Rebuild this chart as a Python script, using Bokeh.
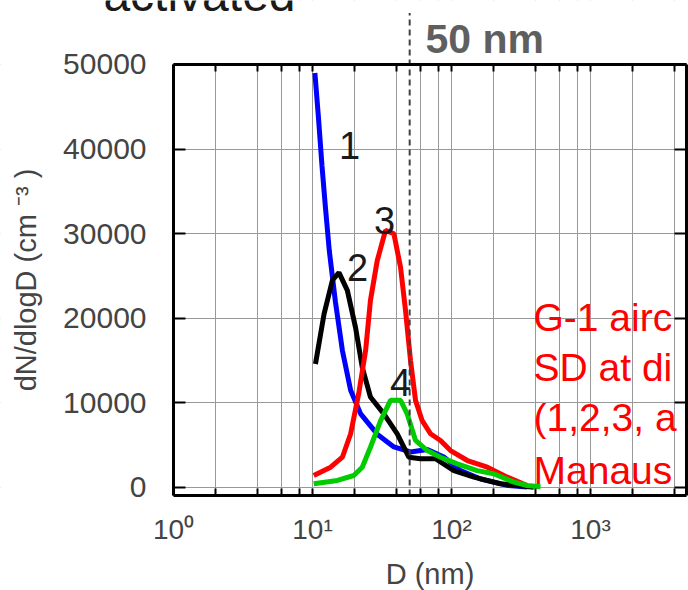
from bokeh.plotting import figure
from bokeh.models import FixedTicker, LogAxis, LinearAxis, Range1d, BoxAnnotation
from bokeh.core.properties import value
from bokeh.embed import file_html
from bokeh.resources import INLINE

FONT = "Liberation Sans"

# Curve 1 (blue)
d1 = [10.4, 11.0, 11.7, 12.4, 13.2, 14.6, 16.4, 18.8, 22.2, 29.2, 38.5, 50.7, 67, 88, 116, 162, 252, 350]
n1 = [49000, 44000, 38000, 33000, 28000, 22000, 16200, 11500, 8700, 6300, 4800, 4200, 4500, 3600, 2000, 1000, 250, 50]
# Curve 2 (black)
d2 = [10.5, 12.1, 13.9, 15.5, 17.8, 20.4, 22.8, 26.1, 32.6, 40.7, 49.3, 59.8, 76.7, 104, 145, 225, 391]
n2 = [14600, 20500, 24500, 25400, 23300, 18900, 14200, 10700, 8700, 6350, 3580, 3400, 3400, 2000, 1220, 440, 40]
# Curve 3 (red)
d3 = [10.2, 13.5, 16.4, 18.8, 21.5, 24.1, 26.1, 29.2, 33.5, 38.5, 43.0, 46.7, 50.7, 55.1, 61.5, 70.6, 83.3, 98.4, 130, 181, 252, 350]
n3 = [1420, 2400, 3580, 6350, 11100, 16200, 22100, 26800, 30400, 30000, 26000, 20900, 15000, 10300, 7900, 6350, 5560, 4370, 3190, 2400, 1220, 240]
# Curve 4 (green)
d4 = [10.2, 15.1, 19.8, 22.8, 26.1, 30.9, 36.4, 43.0, 48.0, 55.1, 66.9, 83.3, 110, 153, 201, 281, 350, 437]
n4 = [440, 830, 1420, 2400, 4760, 7900, 10300, 10300, 8700, 5560, 4370, 3580, 2800, 2000, 1620, 630, 240, 100]

x_major = [1, 10, 100, 1000]
x_minor = [2, 4, 6, 8, 20, 40, 60, 80, 200, 400, 600, 800, 2000, 4000]
x_tick_labels = {1: "10\u2070", 10: "10\u00b9", 100: "10\u00b2", 1000: "10\u00b3"}
y_ticks = [0, 10000, 20000, 30000, 40000, 50000]

# plot box (data limits) and full view
box_x = (1, 4910)
box_y = (-946, 50000)
view_x = (0.0569, 5070)
view_y = (-12175, 57565)

curve_nums = ["1", "2", "3", "4"]
num_x = [18.5, 21.1, 33.0, 43.0]
num_y = [40420, 26000, 31560, 12410]

# the note is cut off by the right edge of the picture
note_lines = ["G-1 airc", "SD at di", "(1,2,3, a", "Manaus"]
note_x = [389, 389, 389, 389]
note_y = [20100, 14190, 8280, 2010]

cut_size = 50  # nm
cut_top = 56100

p = figure(width=688, height=590, x_axis_type="log",
           x_range=Range1d(*view_x), y_range=Range1d(*view_y),
           output_backend="svg", toolbar_location=None, min_border=0)
p.background_fill_color = "white"
p.border_fill_color = "white"
p.outline_line_color = None

xt = FixedTicker(ticks=x_major, minor_ticks=x_minor)
yt = FixedTicker(ticks=y_ticks)

def style_ticks(ax, tick_len):
    ax.major_tick_in = tick_len
    ax.major_tick_out = 0
    ax.minor_tick_in = tick_len
    ax.minor_tick_out = 0
    ax.major_tick_line_width = 2
    ax.minor_tick_line_width = 2
    ax.major_tick_line_color = "black"
    ax.minor_tick_line_color = "black"
    ax.axis_line_color = "black"
    ax.axis_line_width = 3

xa = p.xaxis[0]
xa.ticker = xt
xa.fixed_location = box_y[0]
xa.bounds = box_x
style_ticks(xa, 7)
xa.major_label_overrides = {float(k): v for k, v in x_tick_labels.items()}
xa.major_label_text_font = FONT
xa.major_label_text_font_size = "28px"
xa.major_label_standoff = 18
xa.axis_label = "D (nm)"
xa.axis_label_text_font = FONT
xa.axis_label_text_font_size = "29px"
xa.axis_label_text_font_style = "normal"
xa.axis_label_standoff = 10

ya = p.yaxis[0]
ya.ticker = yt
ya.fixed_location = box_x[0]
ya.bounds = box_y
style_ticks(ya, 12)
ya.major_label_text_font = FONT
ya.major_label_text_font_size = "30px"
ya.major_label_standoff = 27
ya.axis_label = "dN/dlogD (cm \u207b\u00b3 )"
ya.axis_label_text_font = FONT
ya.axis_label_text_font_size = "29px"
ya.axis_label_text_font_style = "normal"
ya.axis_label_standoff = 18

top = LogAxis(ticker=xt, fixed_location=box_y[1], bounds=box_x, major_label_text_color=None)
style_ticks(top, 7)
right = LinearAxis(ticker=yt, fixed_location=box_x[1], bounds=box_y, major_label_text_color=None)
style_ticks(right, 12)
p.add_layout(top, "above")
p.add_layout(right, "right")

p.xgrid.ticker = xt
p.ygrid.ticker = yt
for g in (p.xgrid, p.ygrid):
    g.grid_line_color = "#999999"
    g.grid_line_width = 1
p.xgrid.minor_grid_line_color = "#999999"
p.xgrid.minor_grid_line_width = 1

# white masks outside the plot box (hide grid lines there)
for kw in (dict(right=box_x[0]), dict(left=box_x[1]), dict(top=box_y[0]), dict(bottom=box_y[1])):
    p.add_layout(BoxAnnotation(fill_color="white", fill_alpha=1, line_color=None, level="underlay", **kw))

p.line(d1, n1, line_color="#0000ff", line_width=5)
p.line(d2, n2, line_color="black", line_width=5)
p.line(d3, n3, line_color="#ff0000", line_width=5)
p.line(d4, n4, line_color="#00cc00", line_width=5)

p.segment(x0=[cut_size], y0=[box_y[0]], x1=[cut_size], y1=[cut_top],
          line_dash="6 4", line_width=2, line_color="#404040")

p.text(x=num_x, y=num_y, text=curve_nums, text_font=value(FONT), text_font_size="38px",
       text_color="#1a1a1a", text_align="center", text_baseline="alphabetic")

p.text(x=note_x, y=note_y, text=note_lines, text_font=value(FONT), text_font_size="39px",
       text_color="#ff0000", text_align="left", text_baseline="alphabetic")

p.text(x=[65], y=[53055], text=["50 nm"], text_font=value(FONT), text_font_size="41px",
       text_font_style="bold", text_color="#5f5f5f", text_baseline="alphabetic")
p.text(x=[0.313], y=[58310], text=["activated"], text_font=value(FONT), text_font_size="48px",
       text_color="#1a1a1a", text_baseline="alphabetic")

open("out.html", "w").write(file_html(p, INLINE))
